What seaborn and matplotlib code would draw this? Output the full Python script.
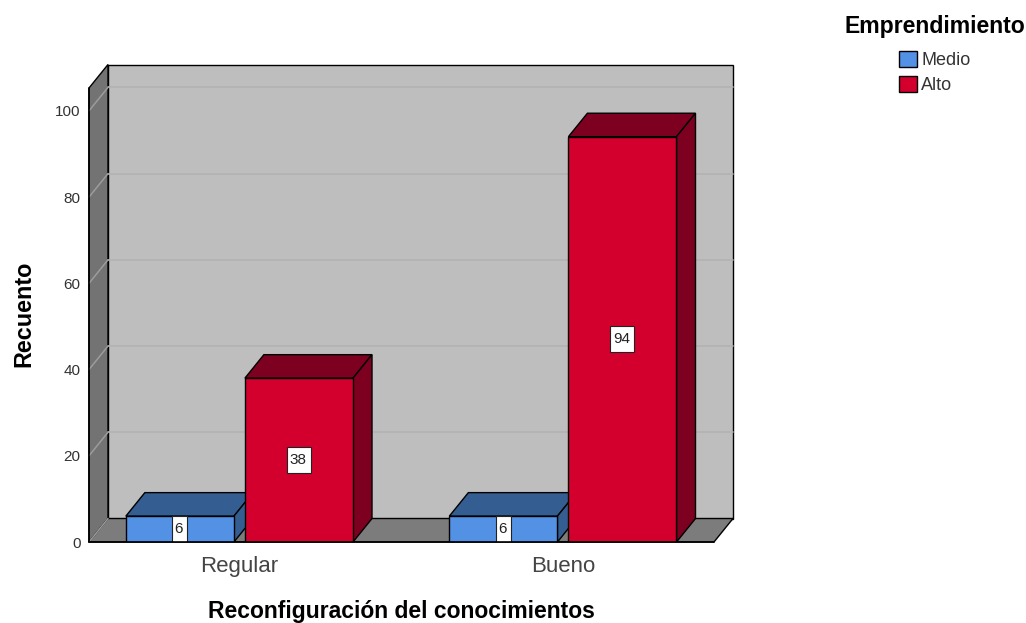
"""Recuento de Emprendimiento por Reconfiguracion del conocimientos, 3D style bars."""

import pandas as pd
import matplotlib
matplotlib.use("Agg")
import matplotlib.pyplot as plt
from matplotlib.patches import Polygon, Rectangle
import seaborn as sns

categories = ["Regular", "Bueno"]
levels = ["Medio", "Alto"]
medio_counts = [6, 6]
alto_counts = [38, 94]
y_ticks = [0, 20, 40, 60, 80, 100]

sns.set_theme(style="white")
plt.rcParams["font.family"] = ["Liberation Sans", "DejaVu Sans"]

df = pd.DataFrame({
    "categoria": categories * 2,
    "nivel": [levels[0]] * 2 + [levels[1]] * 2,
    "recuento": medio_counts + alto_counts,
})

W, H = 1026, 623
fig = plt.figure(figsize=(W / 100, H / 100), dpi=100)
ax = fig.add_axes([89 / W, 1 - 542 / H, 625 / W, 454 / H])

front = {"Medio": "#5391E4", "Alto": "#D3002D"}
shade = {"Medio": "#345E91", "Alto": "#7E0020"}

sns.barplot(data=df, x="categoria", y="recuento", hue="nivel", order=categories,
            hue_order=levels, palette=front, width=0.736, gap=0.092,
            edgecolor="black", linewidth=1, saturation=1, legend=True, ax=ax)

ax.set_xlim(-0.465, 1.467)
ax.set_ylim(0, 105.3)

# pixel -> data units, depth of the fake 3D box is 19px right, 23px up
xu = (ax.get_xlim()[1] - ax.get_xlim()[0]) / 625
yu = (ax.get_ylim()[1] - ax.get_ylim()[0]) / 454
dx, dy = 19 * xu, 23.5 * yu
x0, x1 = ax.get_xlim()
top = ax.get_ylim()[1]


def poly(pts, color, z, lw=1.0, edge="black"):
    ax.add_patch(Polygon(pts, closed=True, facecolor=color, edgecolor=edge,
                         linewidth=lw, zorder=z, clip_on=False))


# walls
poly([(x0 + dx, dy), (x1 + dx, dy), (x1 + dx, top + dy), (x0 + dx, top + dy)], "#BEBEBE", 1)
poly([(x0, 0), (x0 + dx, dy), (x0 + dx, top + dy), (x0, top)], "#737373", 1.1)
poly([(x0, 0), (x1, 0), (x1 + dx, dy), (x0 + dx, dy)], "#7C7C7C", 1.2)

# grid on back and side wall
for t in y_ticks:
    if t > 0:
        ax.plot([x0 + dx, x1 + dx], [t + dy, t + dy], color="#B2B2B2", lw=1.2, zorder=1.3, clip_on=False)
    ax.plot([x0, x0 + dx], [t, t + dy], color="#9C9C9C", lw=1.1, zorder=1.3, clip_on=False)

# bars, left to right so each one hides the side of the previous
bars = [p for p in ax.patches if isinstance(p, Rectangle) and p.get_height() > 0 and p.get_width() < 1]
bars = sorted(bars, key=lambda p: p.get_x())
for i, p in enumerate(bars):
    z = 2 + i
    left, w, h = p.get_x(), p.get_width(), p.get_height()
    nivel = "Medio" if h < 10 else "Alto"
    p.set_zorder(z + 0.2)
    poly([(left, h), (left + w, h), (left + w + dx, h + dy), (left + dx, h + dy)], shade[nivel], z)
    poly([(left + w, 0), (left + w + dx, dy), (left + w + dx, h + dy), (left + w, h)], shade[nivel], z)

    # white count box
    label = f"{h:.0f}"
    bw = (6 + 9 * len(label)) * xu
    bh = 26 * yu
    cx = left + w / 2
    ax.add_patch(Rectangle((cx - bw / 2, h / 2 - bh / 2), bw, bh, facecolor="white",
                           edgecolor="#222222", linewidth=0.8, zorder=z + 0.3))
    ax.text(cx - 1 * xu, h / 2, label, ha="center", va="center", fontsize=11, color="#222222", zorder=z + 0.4)

sns.despine(ax=ax, top=True, right=True, left=True, bottom=True)
ax.plot([x0, x1], [0, 0], color="black", lw=1.2, zorder=50, clip_on=False)
ax.plot([x0, x0], [0, top], color="black", lw=1.2, zorder=1.4, clip_on=False)

ax.set_yticks(y_ticks)
ax.tick_params(axis="y", length=0, pad=6, labelsize=11, labelcolor="#333333")
ax.tick_params(axis="x", length=0, pad=10, labelsize=16, labelcolor="#444444")
ax.set_xlabel("Reconfiguración del conocimientos", fontsize=16.5, fontweight="bold", color="black", labelpad=16.5)
ax.set_ylabel("Recuento", fontsize=16.8, fontweight="bold", color="black", labelpad=14, y=0.503)

handles, labels = ax.get_legend_handles_labels()
leg = ax.legend(handles, labels, title="Emprendimiento", frameon=False,
                loc="upper center", bbox_to_anchor=(934.5 / W, 1 - 6 / H),
                bbox_transform=fig.transFigure, fontsize=13, handlelength=1.0,
                handleheight=1.0, handletextpad=0.25, labelspacing=0.4, borderpad=0)
leg.get_title().set_fontsize(16.6)
leg.get_title().set_fontweight("bold")
leg.get_title().set_color("black")
leg._legend_box.sep = 9
for t in leg.get_texts():
    t.set_color("#333333")

fig.savefig("out.png", dpi=100)
